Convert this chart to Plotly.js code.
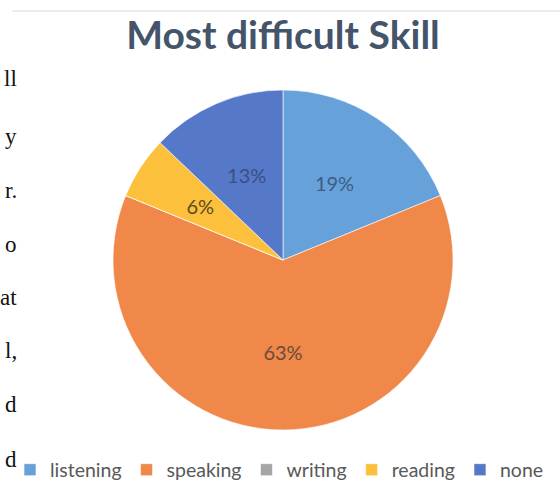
<!DOCTYPE html>
<html>
<head>
<meta charset="utf-8">
<script src="https://cdn.plot.ly/plotly-3.0.1.min.js"></script>
<style>html,body{margin:0;padding:0;background:#fff;}#chart{width:560px;height:504px;}</style>
</head>
<body>
<div id="chart"></div>
<script>
const skills = ['listening', 'speaking', 'writing', 'reading', 'none'];
const shares = [19, 63, 0, 6, 13];
const sideText = ['ll', 'y', 'r.', 'o', 'at', 'l,', 'd', 'd'];

const sliceColors = ['#67A1DA', '#EF8849', '#A5A5A5', '#FCC03C', '#5678C9'];
const labelColors = ['#3D5C86', '#6B4B3A', '#6B6B6B', '#5B4A22', '#3A5082'];
const sideY = [78, 137, 190, 244, 297, 350, 404, 459];

const annotations = sideText.map((t, i) => ({
  text: t, xref: 'paper', yref: 'paper', x: 19 / 560, y: 1 - sideY[i] / 504,
  xanchor: 'right', yanchor: 'middle', showarrow: false,
  font: {family: 'Liberation Serif, serif', size: 23, color: '#111111'}
}));

// main pie (slices + legend)
const pieTrace = {
  type: 'pie',
  labels: skills,
  values: shares,
  sort: false,
  direction: 'clockwise',
  rotation: 0,
  marker: {colors: sliceColors, line: {color: '#ffffff', width: 0.6}},
  textinfo: 'none',
  hoverinfo: 'label+percent',
  domain: {x: [113 / 560, 453 / 560], y: [74 / 504, 414 / 504]}
};

// transparent inner ring carrying the data labels (same data, same angles)
const labelTrace = {
  type: 'pie',
  labels: skills,
  values: shares,
  sort: false,
  direction: 'clockwise',
  rotation: 0,
  hole: 0.58,
  showlegend: false,
  marker: {colors: skills.map(() => 'rgba(0,0,0,0)'), line: {width: 0}},
  texttemplate: shares.map(v => v > 0 ? v + '%' : ''),
  textposition: 'inside',
  insidetextorientation: 'horizontal',
  textfont: {family: 'Lato, sans-serif', size: 20, color: labelColors},
  hoverinfo: 'skip',
  domain: {x: [166 / 560, 400 / 560], y: [127 / 504, 361 / 504]}
};

const layout = {
  width: 560, height: 504,
  margin: {l: 0, r: 0, t: 0, b: 0, autoexpand: false},
  paper_bgcolor: '#ffffff',
  title: {
    text: '<b>Most difficult Skill</b>',
    x: 283 / 560, xanchor: 'center', y: 1 - 35 / 504, yanchor: 'middle',
    font: {family: 'Lato, sans-serif', size: 39, color: '#44546A'}
  },
  showlegend: true,
  legend: {
    orientation: 'h', x: 10 / 560, xanchor: 'left', y: 1 - 470 / 504, yanchor: 'middle',
    font: {family: 'Lato, sans-serif', size: 19.5, color: '#595959'},
    traceorder: 'normal', itemclick: false
  },
  shapes: [{type: 'line', xref: 'paper', yref: 'paper', x0: 12 / 560, x1: 1, y0: 1 - 11 / 504, y1: 1 - 11 / 504,
    line: {color: '#E3E6EA', width: 1.5}}],
  annotations: annotations
};

Plotly.newPlot('chart', [pieTrace, labelTrace], layout, {displayModeBar: false, staticPlot: true});
</script>
</body>
</html>
